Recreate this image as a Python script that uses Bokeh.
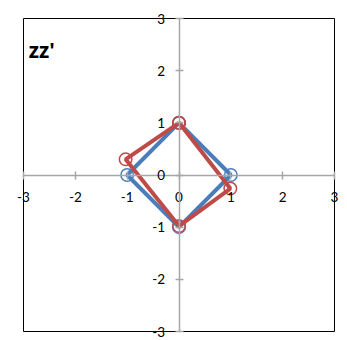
from bokeh.plotting import figure
from bokeh.models import Range1d, LinearAxis, FixedTicker, Label
from bokeh.embed import file_html
from bokeh.resources import INLINE

# data
title_text = "zz'"
blue_x = [0, 1, 0, -1, 0]
blue_y = [1, 0, -1, 0, 1]
red_x = [0, 0.99, 0, -1.03, 0]
red_y = [1, -0.26, -0.98, 0.30, 1]
x_ticks = [-3, -2, -1, 0, 1, 2, 3]
y_ticks = [-3, -2, -1, 0, 1, 2, 3]
x_tick_labels = ["-3", "-2", "-1", "0", "1", "2", "3"]
y_tick_labels = ["-3", "-2", "-1", "0", "1", "2", "3"]

BLUE = "#4A7EBB"
RED = "#BE4B48"
AXIS = "#A6A6A6"
FONT = "Lato"

# canvas size and where the plot box (-3..3) should sit, in pixels
W, H = 340, 338
BOX_L, BOX_R, BOX_T, BOX_B = 23, 334, 18, 331
xmin, xmax = x_ticks[0], x_ticks[-1]
ymin, ymax = y_ticks[0], y_ticks[-1]
xpp = (xmax - xmin) / (BOX_R - BOX_L)
ypp = (ymax - ymin) / (BOX_B - BOX_T)
x_range = Range1d(xmin - BOX_L * xpp, xmax + (W - BOX_R) * xpp)
y_range = Range1d(ymin - (H - BOX_B) * ypp, ymax + BOX_T * ypp)

p = figure(width=W, height=H, x_range=x_range, y_range=y_range,
           output_backend="svg", toolbar_location=None,
           x_axis_type=None, y_axis_type=None,
           min_border_left=0, min_border_top=0, min_border_right=0, min_border_bottom=0)
p.grid.visible = False
p.outline_line_color = None
p.background_fill_color = "white"
p.border_fill_color = "white"

# plot-area border
p.quad(left=xmin, right=xmax, bottom=ymin, top=ymax, fill_color=None,
       line_color="black", line_width=1)


def make_axis(ticks, labels, bounds):
    ax = LinearAxis(ticker=FixedTicker(ticks=ticks, minor_ticks=[]), fixed_location=0,
                    bounds=bounds)
    ax.major_label_overrides = {t: s for t, s in zip(ticks, labels)}
    ax.axis_line_color = AXIS
    ax.axis_line_width = 1.5
    ax.major_tick_line_color = AXIS
    ax.major_tick_line_width = 1.5
    ax.major_tick_in = 4
    ax.major_tick_out = 4
    ax.minor_tick_line_color = None
    ax.major_label_text_font = FONT
    ax.major_label_text_font_size = "13.5px"
    ax.major_label_text_color = "black"
    return ax


xax = make_axis(x_ticks, x_tick_labels, (xmin, xmax))
xax.major_label_standoff = 13
p.add_layout(xax, "below")
yax = make_axis(y_ticks, y_tick_labels, (ymin, ymax))
yax.major_label_standoff = 10
p.add_layout(yax, "left")

# series
p.line(blue_x, blue_y, line_color=BLUE, line_width=4)
p.scatter(blue_x, blue_y, marker="circle", size=12.5, fill_color=None,
          line_color=BLUE, line_width=1.5)
p.line(red_x, red_y, line_color=RED, line_width=4)
p.scatter(red_x, red_y, marker="circle", size=12.5, fill_color=None,
          line_color=RED, line_width=1.5)

# title inside the plot area
p.add_layout(Label(x=-2.9, y=2.4, text=title_text, text_font="Open Sans",
                   text_font_style="bold", text_font_size="21px", text_color="black",
                   text_baseline="alphabetic"))

open("out.html", "w").write(file_html(p, INLINE))
